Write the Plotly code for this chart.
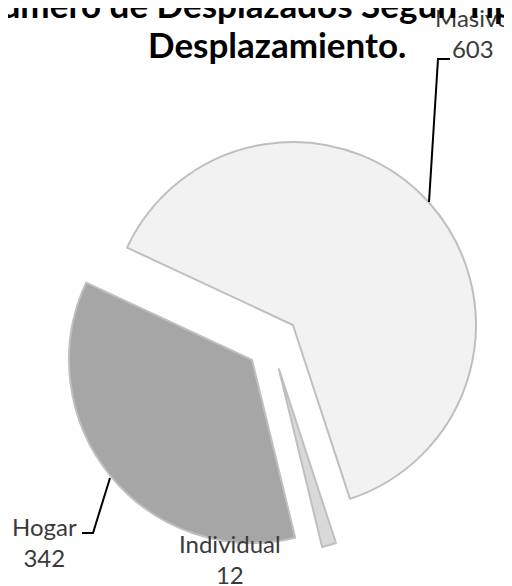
import plotly.graph_objects as go

# ---- data ----
categories = ["Masivo", "Individual", "Hogar"]
values = [603, 12, 342]
colors = ["#f2f2f2", "#d9d9d9", "#a6a6a6"]
title_lines = ["Número de Desplazados Según Tipo de", "Desplazamiento."]

# page body has an 8px margin, so the figure is sized to fit the window
OFF = 8
W, H = 512 - OFF, 586 - OFF


def px(x):
    return (x - OFF) / W


def py(y):
    return 1 - (y - OFF) / H


pulls = [0.155, 0.144, 0.139]
r = 183
cx, cy = 271.7 - OFF, 343.8 - OFF
box = 2 * r * (1 + max(pulls))

fig = go.Figure(
    go.Pie(
        labels=categories,
        values=values,
        sort=False,
        direction="clockwise",
        rotation=295,
        pull=pulls,
        marker=dict(colors=colors, line=dict(color="#bfbfbf", width=2)),
        textinfo="none",
        hoverinfo="label+value",
        showlegend=False,
        domain=dict(
            x=[(cx - box / 2) / W, (cx + box / 2) / W],
            y=[1 - (cy + box / 2) / H, 1 - (cy - box / 2) / H],
        ),
    )
)

label_font = dict(family="Lato, Noto Sans, sans-serif", size=24, color="#3a3a3a")

annotations = [
    dict(x=px(473), y=py(1), text=f"{categories[0]}<br>{values[0]}", xanchor="center", yanchor="top"),
    dict(x=px(44), y=py(510), text=f"{categories[2]}<br>{values[2]}", xanchor="center", yanchor="top"),
    dict(x=px(230), y=py(527), text=f"{categories[1]}<br>{values[1]}", xanchor="center", yanchor="top"),
]
for a in annotations:
    a.update(xref="paper", yref="paper", showarrow=False, font=label_font, align="center")

title_font = dict(family="Lato, Noto Sans, sans-serif", size=35, color="#000000")
for text, top in zip(title_lines, [-19, 21]):
    annotations.append(
        dict(
            x=px(277), y=py(top), xref="paper", yref="paper", xanchor="center", yanchor="top",
            text=f"<b>{text}</b>", showarrow=False, align="center", font=title_font,
        )
    )


def path(points):
    d = "M " + " L ".join(f"{px(x)},{py(y)}" for x, y in points)
    return dict(type="path", xref="paper", yref="paper", path=d,
                line=dict(color="#000000", width=2))


shapes = [
    path([(429, 202), (438, 59), (450, 59)]),
    path([(110, 478), (93, 533), (82, 533)]),
]

fig.update_layout(
    width=W,
    height=H,
    margin=dict(l=0, r=0, t=0, b=0),
    paper_bgcolor="white",
    plot_bgcolor="white",
    annotations=annotations,
    shapes=shapes,
)

fig.write_html("out.html")
